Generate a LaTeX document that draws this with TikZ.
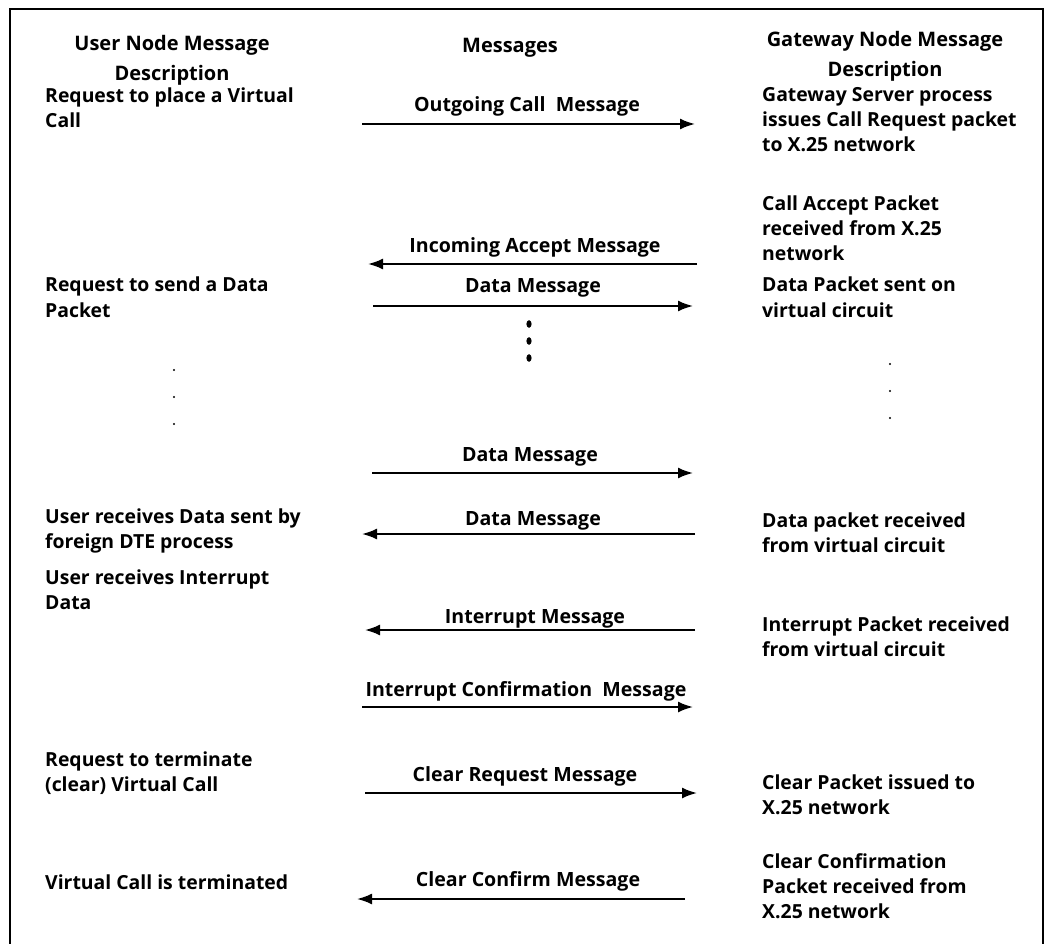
\documentclass[tikz,border=0pt]{standalone}
\usepackage{fontspec}
\setmainfont{Open Sans}
\usepackage{tikz}
\usetikzlibrary{calc,arrows.meta}

\tikzset{
  desc/.style={anchor=base west, align=left, inner sep=0pt,
    font=\fontsize{19.4}{25}\selectfont\bfseries},
  hdr/.style={anchor=base, align=center, inner sep=0pt,
    font=\fontsize{20}{30}\selectfont\bfseries},
  lbl/.style={anchor=base, inner sep=0pt,
    font=\fontsize{19.6}{25}\selectfont\bfseries},
  msg/.style={-{Latex[length=15pt,width=11pt]}, line width=2pt}
}

\begin{document}
\begin{tikzpicture}[x=1pt,y=-1pt]
  \useasboundingbox (0,0) rectangle (1045,944);
  % frame, open at the bottom
  \draw[line width=1.3pt] (10,944) -- (10,9) -- (1043,9) -- (1043,944);

  % column heads (base = last line)
  \node[hdr] (huser) at (172,81) {User Node Message\\Description};
  \node[hdr] (hmsg) at (510,53) {Messages};
  \node[hdr] (hgw) at (885,77) {Gateway Node Message\\Description};

  % user node side
  \node[desc] (u1) at (45,128) {Request to place a Virtual\\Call};
  \node[desc] (u3) at (45,317) {Request to send a Data\\Packet};
  \node[desc] (u5) at (45,548) {User receives Data sent by\\foreign DTE process};
  \node[desc] (u6) at (45,609) {User receives Interrupt\\Data};
  \node[desc] (u8) at (45,791) {Request to terminate\\(clear) Virtual Call};
  \node[desc] (u9) at (45,889) {Virtual Call is terminated};

  % gateway node side
  \node[desc] (g1) at (762,152) {Gateway Server process\\issues Call Request packet\\to X.25 network};
  \node[desc] (g2) at (762,261) {Call Accept Packet\\received from X.25\\network};
  \node[desc] (g3) at (762,317) {Data Packet sent on\\virtual circuit};
  \node[desc] (g5) at (762,552) {Data packet received\\from virtual circuit};
  \node[desc] (g6) at (762,656) {Interrupt Packet received\\from virtual circuit};
  \node[desc] (g8) at (762,814) {Clear Packet issued to\\X.25 network};
  \node[desc] (g9) at (762,918) {Clear Confirmation\\Packet received from\\X.25 network};

  % arrow ends
  \coordinate (a1l) at (362,124); \coordinate (a1r) at (695,124);
  \coordinate (a2l) at (368,264); \coordinate (a2r) at (697,264);
  \coordinate (a3l) at (373,306); \coordinate (a3r) at (693,306);
  \coordinate (a4l) at (372,473); \coordinate (a4r) at (693,473);
  \coordinate (a5l) at (362,534); \coordinate (a5r) at (695,534);
  \coordinate (a6l) at (365,630); \coordinate (a6r) at (695,630);
  \coordinate (a7l) at (362,707); \coordinate (a7r) at (693,707);
  \coordinate (a8l) at (365,793); \coordinate (a8r) at (697,793);
  \coordinate (a9l) at (357,899); \coordinate (a9r) at (685,899);

  \draw[msg] (a1l) -- (a1r);
  \draw[msg] (a2r) -- (a2l);
  \draw[msg] (a3l) -- (a3r);
  \draw[msg] (a4l) -- (a4r);
  \draw[msg] (a5r) -- (a5l);
  \draw[msg] (a6r) -- (a6l);
  \draw[msg] (a7l) -- (a7r);
  \draw[msg] (a8l) -- (a8r);
  \draw[msg] (a9r) -- (a9l);

  % message names
  \node[lbl] (m1) at (527,112) {Outgoing Call\ \ Message};
  \node[lbl] (m2) at (535,253) {Incoming Accept Message};
  \node[lbl] (m3) at (533,293) {Data Message};
  \node[lbl] (m4) at (530,461) {Data Message};
  \node[lbl] (m5) at (533,525) {Data Message};
  \node[lbl] (m6) at (535,623) {Interrupt Message};
  \node[lbl] (m7) at (526,696) {Interrupt Confirmation\ \ Message};
  \node[lbl] (m8) at (525,781) {Clear Request Message};
  \node[lbl] (m9) at (528,886) {Clear Confirm Message};

  % dots
  \foreach \y in {324, 341, 358}
    \fill (529,\y) ellipse (2.6pt and 3.8pt);
  \foreach \y in {370, 397, 424}
    \fill (174,\y) circle (1.2pt);
  \foreach \y in {364, 391, 418}
    \fill (890,\y) circle (1.2pt);
\end{tikzpicture}
\end{document}
